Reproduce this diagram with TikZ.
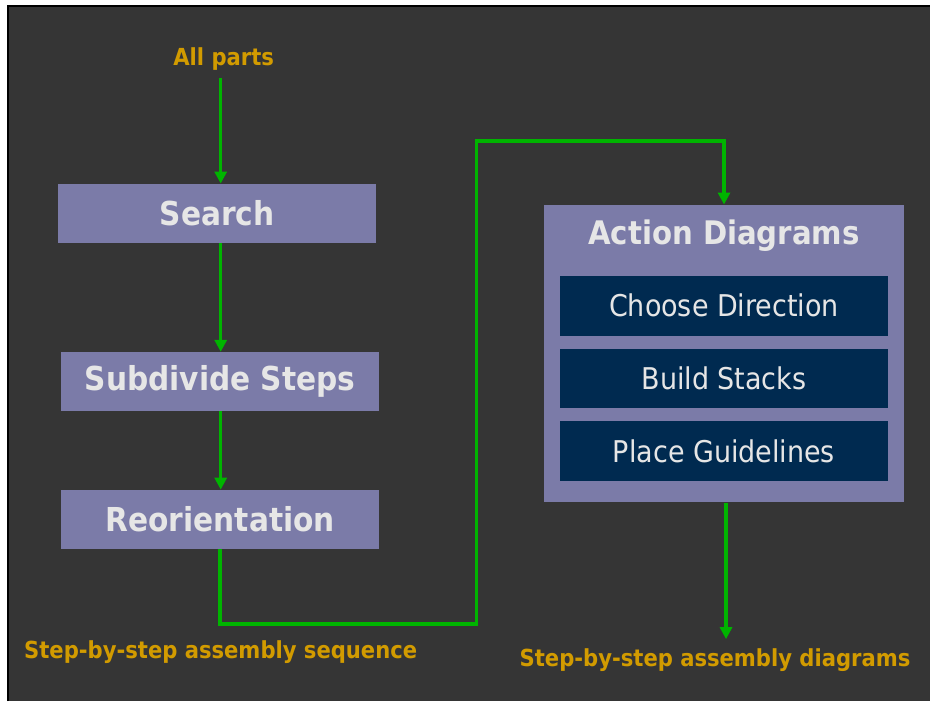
\documentclass[tikz,border=0pt]{standalone}
\usepackage{fontspec}
\setmainfont{DejaVu Sans Condensed}
\usepackage{tikz}
\usetikzlibrary{arrows.meta,positioning,calc}
\definecolor{slateBg}{RGB}{53, 53, 53}
\definecolor{boxViolet}{RGB}{123, 123, 168}
\definecolor{boxNavy}{RGB}{0, 42, 80}
\definecolor{textPale}{RGB}{230, 230, 230}
\definecolor{labelGold}{RGB}{210, 155, 0}
\definecolor{flowGreen}{RGB}{0, 180, 0}

\tikzset{
    stagebox/.style={fill=boxViolet, text=textPale, inner sep=0pt, minimum width=319pt,
        minimum height=59pt, font=\fontsize{33pt}{38pt}\selectfont\bfseries},
    subbox/.style={fill=boxNavy, text=textPale, inner sep=0pt, minimum width=328pt,
        minimum height=60pt, font=\fontsize{30pt}{35pt}\selectfont},
    goldlabel/.style={text=labelGold, inner sep=0pt, font=\fontsize{23.5pt}{28pt}\selectfont\bfseries},
    flow/.style={draw=flowGreen, line width=3.5pt, -{Triangle[width=12pt,length=12pt]}},
    flowplain/.style={draw=flowGreen, line width=3.5pt}
}

\begin{document}
\begin{tikzpicture}[x=1pt, y=-1pt]
    % frame
    \fill[white] (0,0) rectangle (931,702);
    \fill[slateBg] (8,6) rectangle (931,702);
    \draw[black, line width=2.5pt] (8,702) -- (8,6) -- (931,6);
    \useasboundingbox (0,0) rectangle (931,702);

    % left column
    \node[goldlabel] (allparts) at (224,59) {All parts};
    \node[stagebox] (search) at (217.5,213.5) {Search};
    \node[stagebox] (subdivide) at (220.5,382) {Subdivide Steps};
    \node[stagebox] (reorient) at (220.5,520) {Reorientation};
    \node[goldlabel] (seqlabel) at (221,653) {Step-by-step assembly sequence};

    % action diagrams block
    \node[fill=boxViolet, inner sep=0pt, minimum width=360pt, minimum height=298pt] (action) at (725,354) {};
    \node[text=textPale, font=\fontsize{32.5pt}{37pt}\selectfont\bfseries] (actiontitle) at (725,236) {Action Diagrams};
    \node[subbox] (direction) at (725,306) {Choose Direction};
    \node[subbox] (stacks) at (725,379) {Build Stacks};
    \node[subbox] (guides) at (725,452) {Place Guidelines};
    \node[goldlabel] (diaglabel) at (716,661) {Step-by-step assembly diagrams};

    \coordinate (low) at (477,625);
    \coordinate (high) at (477,141);

    % connectors
    \draw[flow] ([yshift=-8pt]allparts.south -| 221,0) -- (221,0 |- search.north);
    \draw[flow] (221,0 |- search.south) -- (221,0 |- subdivide.north);
    \draw[flow] (221,0 |- subdivide.south) -- (221,0 |- reorient.north);
    \draw[flow] (reorient.south) |- (low) -- (high) -| (action.north);
    \draw[flow] ([xshift=2pt]action.south) -- ([xshift=2pt]action.south |- 0,640);
\end{tikzpicture}
\end{document}
